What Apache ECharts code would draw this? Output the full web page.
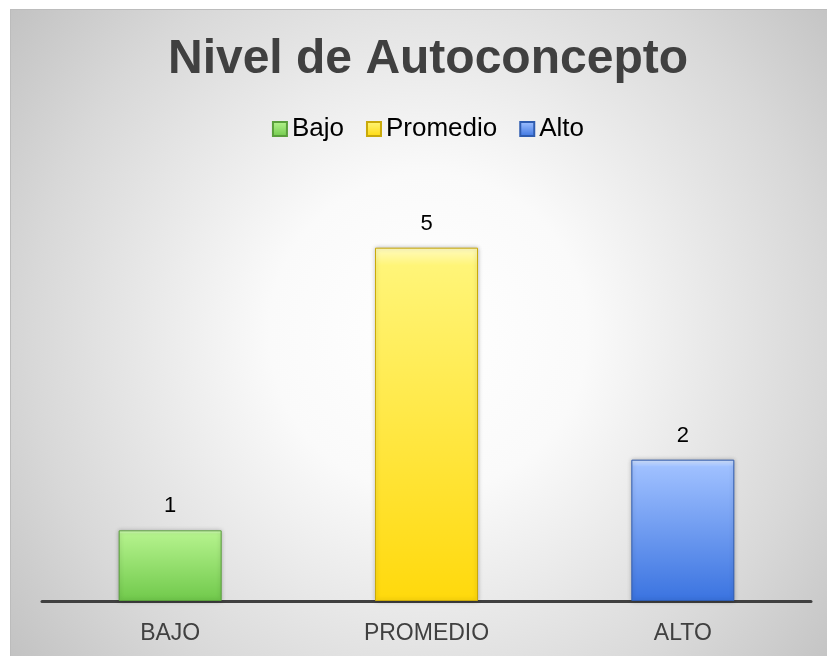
<!DOCTYPE html>
<html>
<head>
<meta charset="utf-8">
<script src="https://cdn.jsdelivr.net/npm/echarts@6/dist/echarts.min.js"></script>
<style>
  html, body { margin: 0; padding: 0; background: #ffffff; overflow: hidden; }
  #chart { position: absolute; left: 11px; top: 10px; width: 834px; height: 646px; outline: 1px solid #bcbcbc; }
</style>
</head>
<body>
<div id="chart"></div>
<script>
// datos del gráfico
var categorias = ['BAJO', 'PROMEDIO', 'ALTO']
var nombresSerie = ['Bajo', 'Promedio', 'Alto']
var valores = [1, 5, 2]

var fuente = "'Liberation Sans', Arial, sans-serif"

// degradados tipo bisel de Excel
function degradado (claro, medio, oscuro) {
  return {
    type: 'linear', x: 0, y: 0, x2: 0, y2: 1,
    colorStops: [
      { offset: 0, color: claro },
      { offset: 0.05, color: medio },
      { offset: 1, color: oscuro }
    ]
  }
}
var colores = [
  degradado('#dcffc8', '#b4f28c', '#70c94b'),
  degradado('#fffbc0', '#fff578', '#ffd90c'),
  degradado('#d4e4ff', '#9fc0ff', '#3a73e0')
]
var bordes = ['#5a9f3c', '#c9a90a', '#2f5cb0']

var chartInstance = echarts.init(document.getElementById('chart'))

var series = []
for (var i = 0; i < nombresSerie.length; i++) {
  var datos = []
  for (var j = 0; j < categorias.length; j++) {
    datos.push(i === j ? valores[j] : '-')
  }
  series.push({
    name: nombresSerie[i],
    type: 'bar',
    stack: 'total',
    barWidth: 103,
    data: datos,
    itemStyle: {
      color: colores[i],
      borderColor: bordes[i],
      borderWidth: 1,
      shadowBlur: 4,
      shadowColor: 'rgba(0,0,0,0.25)'
    },
    label: {
      show: true,
      position: 'top',
      distance: 13,
      fontSize: 22,
      color: '#000000',
      fontFamily: fuente
    }
  })
}

var option = {
  animation: false,
  graphic: [{
    type: 'rect',
    left: 0,
    top: 0,
    z: -10,
    silent: true,
    shape: { width: 834, height: 646 },
    style: {
      fill: {
        type: 'radial', x: 0.5, y: 0.5, r: 0.82,
        colorStops: [
          { offset: 0, color: '#ffffff' },
          { offset: 0.3, color: '#fafafa' },
          { offset: 0.75, color: '#d8d8d8' },
          { offset: 1, color: '#c2c2c2' }
        ]
      }
    }
  }],
  title: {
    text: 'Nivel de Autoconcepto',
    left: 'center',
    top: 26,
    padding: 0,
    textStyle: {
      fontSize: 48,
      fontWeight: 'bold',
      color: '#404040',
      fontFamily: fuente
    }
  },
  legend: {
    data: nombresSerie,
    top: 101,
    left: 'center',
    icon: 'rect',
    itemWidth: 14,
    itemHeight: 14,
    itemGap: 22,
    textStyle: {
      fontSize: 26,
      color: '#000000',
      fontFamily: fuente
    }
  },
  grid: {
    left: 31,
    right: 34,
    top: 167,
    bottom: 55,
    containLabel: false
  },
  xAxis: {
    type: 'category',
    data: categorias,
    axisLine: { lineStyle: { color: '#404040', width: 3 } },
    axisTick: { show: false },
    axisLabel: {
      margin: 21,
      fontSize: 23,
      color: '#404040',
      fontFamily: fuente
    }
  },
  yAxis: {
    type: 'value',
    min: 0,
    max: 6,
    show: false,
    splitLine: { show: false }
  },
  series: series
}
chartInstance.setOption(option)
</script>
</body>
</html>
